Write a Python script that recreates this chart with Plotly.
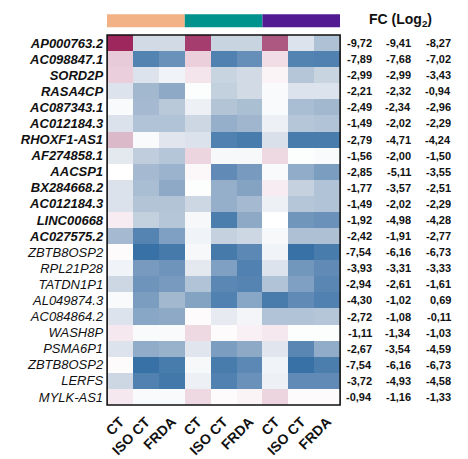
import plotly.graph_objects as go

W, H = 468, 459

genes = ["AP000763.2", "AC098847.1", "SORD2P", "RASA4CP", "AC087343.1", "AC012184.3",
         "RHOXF1-AS1", "AF274858.1", "AACSP1", "BX284668.2", "AC012184.3", "LINC00668",
         "AC027575.2", "ZBTB8OSP2", "RPL21P28", "TATDN1P1", "AL049874.3", "AC084864.2",
         "WASH8P", "PSMA6P1", "ZBTB8OSP2", "LERFS", "MYLK-AS1"]
# first 13 genes are shown in bold
bold_rows = 13

conditions = ["CT", "ISO CT", "FRDA", "CT", "ISO CT", "FRDA", "CT", "ISO CT", "FRDA"]
group_colors = ["#f3b286", "#00928c", "#521b92"]

# scaled expression per gene (rows) and sample (columns), -1 .. 1
expr = [
    [1.00, -0.18, -0.18, 0.90, -0.22, -0.22, 0.75, -0.12, -0.35],
    [0.18, -0.80, -0.68, 0.15, -0.82, -0.70, 0.10, -0.80, -0.82],
    [0.16, -0.12, -0.05, 0.07, -0.22, -0.18, 0.03, -0.32, -0.22],
    [-0.12, -0.42, -0.52, -0.01, -0.25, -0.18, -0.02, -0.12, -0.12],
    [-0.02, -0.40, -0.30, -0.06, -0.33, -0.37, -0.02, -0.38, -0.42],
    [-0.13, -0.34, -0.34, -0.20, -0.48, -0.43, -0.06, -0.32, -0.34],
    [0.30, -0.02, -0.10, -0.13, -0.82, -0.88, -0.14, -0.88, -0.88],
    [-0.09, -0.27, -0.32, 0.13, -0.03, -0.03, 0.12, -0.01, -0.02],
    [0.00, -0.40, -0.45, 0.02, -0.72, -0.62, -0.02, -0.50, -0.60],
    [-0.13, -0.38, -0.52, -0.01, -0.48, -0.56, 0.05, -0.24, -0.34],
    [-0.13, -0.33, -0.33, -0.20, -0.48, -0.40, -0.06, -0.32, -0.34],
    [0.05, -0.25, -0.32, -0.03, -0.86, -0.52, 0.00, -0.65, -0.68],
    [-0.40, -0.78, -0.58, -0.05, -0.24, -0.20, -0.03, -0.36, -0.36],
    [0.01, -1.00, -0.90, -0.03, -0.90, -0.74, -0.05, -1.00, -0.88],
    [-0.05, -0.62, -0.66, -0.09, -0.58, -0.82, -0.12, -0.64, -0.72],
    [-0.20, -0.66, -0.62, -0.34, -0.75, -0.78, -0.34, -0.58, -0.76],
    [-0.02, -0.60, -0.42, -0.56, -0.82, -0.54, -0.88, -0.72, -0.82],
    [-0.12, -0.54, -0.52, 0.01, -0.08, -0.04, -0.34, -0.34, -0.32],
    [0.06, -0.02, -0.02, 0.12, 0.01, 0.04, 0.06, -0.01, -0.01],
    [-0.12, -0.50, -0.46, -0.10, -0.60, -0.52, -0.10, -0.76, -0.50],
    [0.01, -1.00, -0.88, -0.03, -0.88, -0.74, -0.05, -1.00, -0.86],
    [-0.20, -0.82, -0.92, -0.06, -0.82, -0.68, -0.06, -0.72, -0.72],
    [0.06, -0.02, -0.02, 0.12, 0.01, 0.03, 0.13, 0.01, 0.01],
]

# fold changes (log2) for the three comparisons
fc_a = [-9.72, -7.89, -2.99, -2.21, -2.49, -1.49, -2.79, -1.56, -2.85, -1.77, -1.49, -1.92,
        -2.42, -7.54, -3.93, -2.94, -4.30, -2.72, -1.11, -2.67, -7.54, -3.72, -0.94]
fc_b = [-9.41, -7.68, -2.99, -2.32, -2.34, -2.02, -4.71, -2.00, -5.11, -3.57, -2.02, -4.98,
        -1.91, -6.16, -3.31, -2.61, -1.02, -1.08, -1.34, -3.54, -6.16, -4.93, -1.16]
fc_c = [-8.27, -7.02, -3.43, -0.94, -2.96, -2.29, -4.24, -1.50, -3.55, -2.51, -2.29, -4.28,
        -2.77, -6.73, -3.33, -1.61, 0.69, -0.11, -1.03, -4.59, -6.73, -4.58, -1.33]

colorscale = [
    [0.000, "rgb(55,113,165)"],
    [0.125, "rgb(90,135,180)"],
    [0.250, "rgb(145,172,200)"],
    [0.375, "rgb(195,208,222)"],
    [0.450, "rgb(225,230,238)"],
    [0.500, "rgb(255,255,255)"],
    [0.530, "rgb(245,232,238)"],
    [0.575, "rgb(235,208,220)"],
    [0.650, "rgb(220,185,200)"],
    [0.875, "rgb(172,88,128)"],
    [0.950, "rgb(165,62,110)"],
    [1.000, "rgb(158,40,93)"],
]

n_rows = len(genes)
n_cols = len(conditions)

fig = go.Figure(go.Heatmap(
    z=expr, x=list(range(n_cols)), y=list(range(n_rows)),
    zmin=-1, zmax=1, colorscale=colorscale, showscale=False,
    hoverinfo="skip",
))

x0, x1 = 104 / W, 339 / W
y0, y1 = 1 - 405 / H, 1 - 35 / H

tick_labels = [f"<b><i>{g}</i></b>" if i < bold_rows else f"<i>{g}</i>" for i, g in enumerate(genes)]

fig.update_layout(
    width=W, height=H,
    margin=dict(l=0, r=0, t=0, b=0),
    paper_bgcolor="white", plot_bgcolor="white",
    font=dict(family="Liberation Sans, Arial, sans-serif", color="#111"),
    xaxis=dict(domain=[x0, x1], range=[-0.5, n_cols - 0.5], showgrid=False, zeroline=False,
               tickmode="array", tickvals=list(range(n_cols)),
               ticktext=[f"<b>{c}</b>" for c in conditions],
               tickangle=-45, ticks="", ticklabelstandoff=5,
               tickfont=dict(size=14, color="#111")),
    yaxis=dict(domain=[y0, y1], range=[n_rows - 0.5, -0.5], showgrid=False, zeroline=False,
               tickmode="array", tickvals=list(range(n_rows)), ticktext=tick_labels,
               ticks="", ticklabelstandoff=3, tickfont=dict(size=13, color="#111")),
    showlegend=False,
)

# frame around the heatmap
fig.add_shape(type="rect", xref="paper", yref="paper", x0=x0, x1=x1, y0=y0, y1=y1,
              line=dict(color="#111", width=1.6))

# sample group bars above the heatmap
for gi, col in enumerate(group_colors):
    fig.add_shape(type="rect", xref="x", yref="paper",
                  x0=gi * 3 - 0.5 - (0.08 if gi == 0 else 0), x1=gi * 3 + 2.5,
                  y0=1 - 27.3 / H, y1=1 - 14.3 / H,
                  line=dict(width=0), fillcolor=col, layer="above")

# fold-change columns
fig.add_annotation(text="<b>FC (Log<sub>2</sub>)</b>", xref="paper", yref="paper",
                   x=400 / W, y=1 - 20 / H, showarrow=False, xanchor="center", yanchor="middle",
                   font=dict(size=14, color="#111"))

for col_vals, xr in ((fc_a, 373), (fc_b, 413), (fc_c, 453)):
    for i, v in enumerate(col_vals):
        fig.add_annotation(text="<b>" + f"{v:.2f}".replace(".", ",") + "</b>",
                           xref="paper", yref="y", x=xr / W, y=i,
                           showarrow=False, xanchor="right", yanchor="middle",
                           font=dict(size=11, color="#111"))

fig.write_html("out.html")
